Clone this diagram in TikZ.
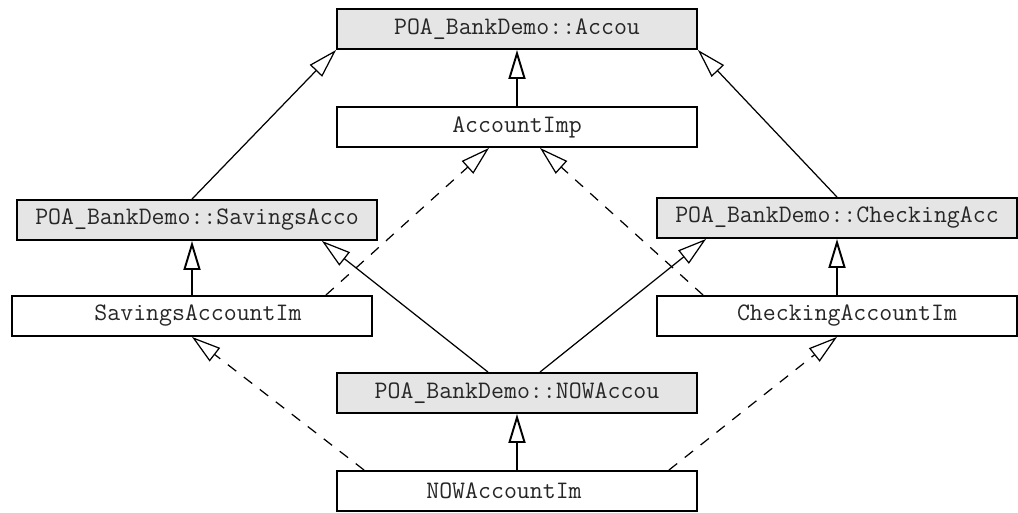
\documentclass[tikz,border=0pt]{standalone}
\usetikzlibrary{arrows.meta}
\usetikzlibrary{calc}
\tikzset{
  cls/.style={draw, fill=gray!20, line width=1.1pt, minimum width=7.2cm,
    minimum height=0.8cm, inner sep=0pt, text=black!85,
    font=\fontsize{14.3}{17}\selectfont\ttfamily},
  impl/.style={cls, fill=white},
  gen/.style={-{Triangle[length=0.58cm, width=0.34cm, fill=white]}, line width=0.7pt},
  real/.style={gen, dash pattern=on 6pt off 5.5pt},
}

\begin{document}
\begin{tikzpicture}[x=0.02cm, y=-0.02cm]
  \useasboundingbox (0,0) rectangle (1018,512);
  \node[cls]  (acc)    at (517,29)  {POA\_BankDemo::Accou};
  \node[impl] (accimp) at (517,127) {AccountImp};
  \node[cls]  (sav)    at (197,220) {POA\_BankDemo::SavingsAcco};
  \node[impl] (savimp) at (192,316) {\hspace*{6.8pt}SavingsAccountIm};
  \node[cls]  (chk)    at (837,218) {POA\_BankDemo::CheckingAcc};
  \node[impl] (chkimp) at (837,316) {\hspace*{11.4pt}CheckingAccountIm};
  \node[cls]  (now)    at (517,393) {POA\_BankDemo::NOWAccou};
  \node[impl] (nowimp) at (517,491) {NOWAccountIm\hspace*{14.8pt}};

  \draw[gen, line width=1.1pt] (accimp) -- (acc);
  \draw[gen] ($(sav.north)+(-5,0)$) -- (acc.south west);
  \draw[gen] (chk.north) -- (acc.south east);
  \draw[gen, line width=1.1pt] (savimp.north) -- (savimp.north |- sav.south);
  \draw[gen, line width=1.1pt] (chkimp.north) -- (chkimp.north |- chk.south);
  \draw[gen] ($(now.north)+(-29,0)$) -- ($(sav.south east)+(-56,0)$);
  \draw[gen] ($(now.north)+(23,0)$) -- ($(chk.south west)+(50,0)$);
  \draw[gen, line width=1.1pt] (nowimp) -- (now);
  \draw[real] ($(savimp.north east)+(-47,0)$) -- ($(accimp.south)+(-28,0)$);
  \draw[real] ($(chkimp.north west)+(47,0)$) -- ($(accimp.south)+(23,0)$);
  \draw[real] ($(nowimp.north west)+(28,0)$) -- (savimp.south);
  \draw[real] ($(nowimp.north east)+(-29,0)$) -- (chkimp.south);
\end{tikzpicture}
\end{document}
